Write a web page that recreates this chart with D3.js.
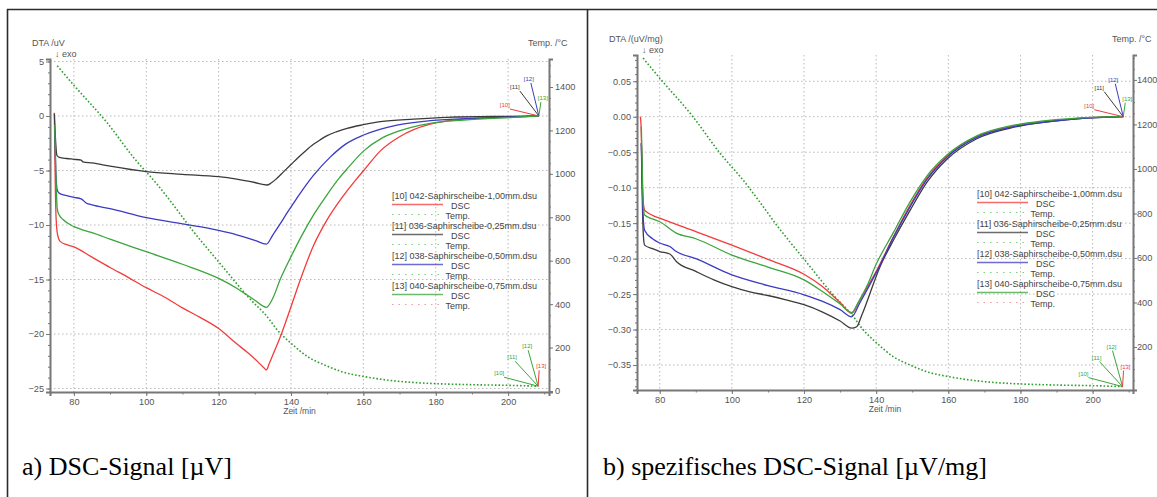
<!DOCTYPE html>
<html>
<head>
<meta charset="utf-8">
<script src="https://cdn.jsdelivr.net/npm/d3@7"></script>
<style>
  body { margin: 0; background: #fff; }
  svg { display: block; }
</style>
</head>
<body>
<svg id="chart" width="1157" height="497" font-family="'Liberation Sans', Arial, sans-serif"></svg>
<script>
// ---- Sample names and tags ----
const sampleNames = [
  "[10] 042-Saphirscheibe-1,00mm.dsu",
  "[11] 036-Saphirscheibe-0,25mm.dsu",
  "[12] 038-Saphirscheibe-0,50mm.dsu",
  "[13] 040-Saphirscheibe-0,75mm.dsu"
];
const sampleTags = ["[10]", "[11]", "[12]", "[13]"];
const sampleColors = ["#f23b3b", "#3b3b3b", "#3b3bc4", "#3aa53a"];

// ---- Tick labels ----
const timeTicks = [80, 100, 120, 140, 160, 180, 200];
const dscTicksA = [5, 0, -5, -10, -15, -20, -25];
const dscTicksB = [0.05, 0.00, -0.05, -0.10, -0.15, -0.20, -0.25, -0.30, -0.35];
const tempTicksA = [0, 200, 400, 600, 800, 1000, 1200, 1400];
const tempTicksB = [200, 400, 600, 800, 1000, 1200, 1400];

// ---- Furnace temperature, time /min and Temp. /°C ----
const tempTime  = [75.4, 80, 89.2, 96.7, 103.1, 107.3, 112.4, 120.2, 128.1, 134, 136, 138, 140.2, 144.8, 149.4, 154, 160, 170.2, 179.9, 190.1, 200.3, 208.3];
const tempValue = [1498, 1408, 1235, 1071, 950, 861, 748, 591, 434, 330, 285, 250, 217, 156, 119, 89, 67, 44, 34, 29, 26, 22];

// ---- DSC signal /µV, [time, value] ----
const dscA10 = [[74.6,0.3],[74.8,-5],[75.1,-9.5],[75.5,-10.9],[76.2,-11.5],[78,-11.8],[80,-12.0],[85,-12.95],[90,-13.9],[95,-14.8],[100,-15.75],[105,-16.6],[110,-17.6],[115,-18.5],[120,-19.5],[125,-20.9],[128,-21.7],[131,-22.6],[132.5,-23.1],[133.2,-23.3],[134,-22.7],[135,-21.9],[137,-20.3],[140,-17.5],[142.6,-15.0],[146.2,-11.9],[150,-9.5],[154.5,-7.3],[157.8,-5.9],[160.1,-5.0],[164.7,-3.2],[170,-1.9],[173.9,-1.25],[178,-0.8],[183.1,-0.45],[192.3,-0.2],[200,-0.1],[208.5,0]];
const dscA11 = [[74.6,0.2],[74.9,-2],[75.3,-3.6],[76,-3.8],[78,-3.9],[80,-3.97],[82,-4.05],[82.5,-4.2],[85,-4.3],[90,-4.6],[100,-5.1],[110,-5.35],[120,-5.57],[125,-5.8],[130,-6.1],[133.4,-6.33],[134.5,-6.15],[136,-5.75],[138,-5.1],[140,-4.45],[142,-3.8],[144,-3.2],[146.2,-2.6],[148,-2.2],[150,-1.8],[152.5,-1.45],[155.5,-1.13],[160,-0.8],[164.7,-0.52],[173.9,-0.28],[183.1,-0.12],[200,-0.03],[208.5,0]];
const dscA12 = [[74.7,-1.4],[75.0,-5],[75.4,-6.8],[76,-7.1],[78,-7.3],[80,-7.46],[82,-7.6],[83.5,-8.0],[85,-8.15],[90,-8.5],[100,-9.33],[110,-9.9],[120,-10.5],[125,-10.9],[130,-11.4],[133.2,-11.75],[135,-10.9],[137,-9.9],[139,-8.85],[141.6,-7.55],[144,-6.4],[146.2,-5.45],[150.9,-3.75],[155,-2.6],[160.1,-1.74],[169.3,-0.83],[178.5,-0.43],[192.3,-0.2],[208.5,0]];
const dscA13 = [[74.7,-0.8],[75.0,-5],[75.4,-8.5],[75.8,-9.0],[77,-9.5],[80,-10.15],[82,-10.4],[84,-10.6],[85,-10.7],[90,-11.3],[100,-12.45],[110,-13.6],[120,-14.9],[125,-15.8],[130,-16.9],[133.2,-17.55],[135,-16.7],[137,-15.0],[140,-12.9],[142.6,-11.2],[146.2,-9.1],[149,-7.7],[153.2,-5.75],[155.5,-4.85],[160.1,-3.2],[165,-2.05],[169.3,-1.44],[178.5,-0.67],[187.7,-0.37],[201.5,-0.12],[208.5,0]];

// ---- Specific DSC signal /(µV/mg), [time, value] ----
const dscB10 = [[74.6,0.0],[74.8,-0.01],[75.0,-0.05],[75.3,-0.11],[75.8,-0.1316],[76.3,-0.134],[78,-0.139],[80,-0.143],[90,-0.162],[100,-0.181],[110,-0.201],[120,-0.222],[125,-0.239],[130,-0.262],[133.2,-0.277],[135.5,-0.258],[138,-0.236],[140.2,-0.216],[144.8,-0.169],[149.4,-0.125],[154,-0.087],[159.6,-0.056],[167.9,-0.028],[177.2,-0.014],[186.4,-0.007],[195.7,-0.0023],[208.5,0.0]];
const dscB11 = [[74.9,-0.0375],[75.1,-0.1],[75.5,-0.17],[75.8,-0.181],[78,-0.186],[80,-0.190],[82.8,-0.1935],[84.6,-0.204],[90,-0.218],[95,-0.230],[100,-0.2396],[105,-0.247],[110,-0.252],[115,-0.258],[120,-0.265],[125,-0.275],[130,-0.288],[133.2,-0.298],[134.6,-0.296],[136,-0.28],[141.1,-0.211],[145,-0.172],[149.4,-0.132],[154,-0.093],[159.6,-0.060],[167.9,-0.031],[177.2,-0.016],[186.4,-0.008],[195.7,-0.003],[208.5,0.0]];
const dscB12 = [[74.9,-0.0375],[75.1,-0.08],[75.4,-0.14],[75.8,-0.16],[78,-0.172],[80,-0.178],[82.8,-0.183],[84.6,-0.190],[90,-0.200],[100,-0.223],[110,-0.238],[120,-0.251],[125,-0.260],[130,-0.272],[133.2,-0.282],[135.5,-0.262],[140.2,-0.218],[144.8,-0.170],[149.4,-0.127],[154,-0.089],[159.6,-0.057],[167.9,-0.029],[177.2,-0.015],[186.4,-0.008],[195.7,-0.003],[208.5,0.0]];
const dscB13 = [[74.9,-0.014],[75.1,-0.06],[75.4,-0.12],[75.8,-0.1386],[78,-0.144],[80,-0.148],[84.6,-0.164],[90,-0.172],[100,-0.195],[110,-0.212],[120,-0.230],[125,-0.246],[130,-0.264],[133.2,-0.276],[135,-0.262],[137.5,-0.238],[140,-0.208],[144.8,-0.163],[149.4,-0.120],[154,-0.084],[159.6,-0.054],[167.9,-0.027],[177.2,-0.013],[186.4,-0.006],[195.7,-0.002],[208.5,0.0]];

const tempSeries = tempTime.map((t, i) => [t, tempValue[i]]);

// ---- Panel layout ----
const panels = [
  {
    left: 50, right: 549, top: 59, bottom: 392,
    xDomain: [73.4, 211.3], yDomain: [-25.32, 5.23], tDomain: [-4.6, 1529],
    yTicks: dscTicksA, yFmt: d3.format("d"), yMinor: 1,
    tTicks: tempTicksA, tLabelX: 6,
    series: [dscA10, dscA11, dscA12, dscA13],
    yTitle: "DTA /uV", titleX: 32, exoX: 55,
    legendX: 392, legendY: 199, legendEnd: 470,
    caption: "a) DSC-Signal [\u00b5V]", captionX: 22
  },
  {
    left: 637, right: 1133, top: 55, bottom: 390,
    xDomain: [73.7, 211.2], yDomain: [-0.3852, 0.0870], tDomain: [6.7, 1512],
    yTicks: dscTicksB, yFmt: d3.format(".2f"), yMinor: 0.01,
    tTicks: tempTicksB, tLabelX: 4,
    series: [dscB10, dscB11, dscB12, dscB13],
    yTitle: "DTA /(uV/mg)", titleX: 609, exoX: 642,
    legendX: 977, legendY: 197, legendEnd: 1055,
    caption: "b) spezifisches DSC-Signal [\u00b5V/mg]", captionX: 603
  }
];

const svg = d3.select("#chart");
const axisColor = "#777";
const labelColor = "#555";

// Table frame around the two figures
const frame = svg.append("g").attr("stroke", "#2b2b2b").attr("stroke-width", 1.6).attr("fill", "none");
frame.append("line").attr("x1", 7).attr("x2", 1157).attr("y1", 9.5).attr("y2", 9.5);
frame.append("line").attr("x1", 7.5).attr("x2", 7.5).attr("y1", 9).attr("y2", 497);
frame.append("line").attr("x1", 587.5).attr("x2", 587.5).attr("y1", 9).attr("y2", 497);

panels.forEach((p, pi) => {
  const g = svg.append("g");
  const x = d3.scaleLinear().domain(p.xDomain).range([p.left, p.right]);
  const y = d3.scaleLinear().domain(p.yDomain).range([p.bottom, p.top]);
  const t = d3.scaleLinear().domain(p.tDomain).range([p.bottom, p.top]);

  // dotted grid
  const grid = g.append("g").attr("stroke", "#b8b8b8").attr("stroke-width", 1).attr("stroke-dasharray", "1.5,2.5");
  timeTicks.forEach(v => grid.append("line").attr("x1", x(v)).attr("x2", x(v)).attr("y1", p.top).attr("y2", p.bottom));
  p.yTicks.forEach(v => grid.append("line").attr("x1", p.left).attr("x2", p.right).attr("y1", y(v)).attr("y2", y(v)));

  // axes with major and minor ticks
  const minorX = d3.range(80, 211, 10);
  const xAxis = d3.axisBottom(x).tickValues(timeTicks).tickSize(4).tickFormat(d3.format("d"));
  const xMinor = d3.axisBottom(x).tickValues(minorX).tickSize(2.5).tickFormat("");
  const yAxis = d3.axisLeft(y).tickValues(p.yTicks).tickSize(4).tickFormat(p.yFmt);
  const yMinorVals = d3.range(Math.ceil(p.yDomain[0] / p.yMinor), Math.floor(p.yDomain[1] / p.yMinor) + 1).map(k => k * p.yMinor);
  const yMinor = d3.axisLeft(y).tickValues(yMinorVals).tickSize(2).tickFormat("");
  const tAxis = d3.axisRight(t).tickValues(p.tTicks).tickSize(4).tickFormat(d3.format("d"));
  const tMinorVals = d3.range(0, 1501, 50).filter(v => v >= p.tDomain[0] && v <= p.tDomain[1]);
  const tMinor = d3.axisRight(t).tickValues(tMinorVals).tickSize(2).tickFormat("");

  function styleAxis(sel) {
    sel.attr("font-family", null);
    sel.select(".domain").attr("stroke", axisColor).attr("stroke-width", 2);
    sel.selectAll(".tick line").attr("stroke", axisColor).attr("stroke-width", 1);
    sel.selectAll(".tick text").attr("fill", labelColor).attr("font-size", 9.2);
  }
  g.append("g").attr("transform", `translate(0,${p.bottom})`).call(xMinor).call(styleAxis).select(".domain").remove();
  g.append("g").attr("transform", `translate(${p.left},0)`).call(yMinor).call(styleAxis).select(".domain").remove();
  g.append("g").attr("transform", `translate(${p.right},0)`).call(tMinor).call(styleAxis).select(".domain").remove();
  g.append("g").attr("transform", `translate(0,${p.bottom})`).call(xAxis).call(styleAxis)
    .selectAll(".tick text").attr("y", 12.5).attr("dy", 0);
  g.append("g").attr("transform", `translate(${p.left},0)`).call(yAxis).call(styleAxis)
    .selectAll(".tick text").attr("x", -6);
  g.append("g").attr("transform", `translate(${p.right},0)`).call(tAxis).call(styleAxis)
    .selectAll(".tick text").attr("x", p.tLabelX);

  // axis titles
  g.append("text").attr("x", p.titleX).attr("y", p.top - 13).attr("font-size", 9).attr("fill", labelColor).text(p.yTitle);
  g.append("text").attr("x", p.exoX).attr("y", p.top - 2).attr("font-size", 9).attr("fill", labelColor)
    .text("\u2193  exo");
  g.append("text").attr("x", p.right - 21).attr("y", p.top - 13).attr("font-size", 9).attr("fill", labelColor).text("Temp. /\u00b0C");
  g.append("text").attr("x", (p.left + p.right) / 2).attr("y", p.bottom + 22).attr("text-anchor", "middle")
    .attr("font-size", 8.5).attr("fill", labelColor).text("Zeit /min");

  // furnace temperature
  const tLine = d3.line().x(d => x(d[0])).y(d => t(d[1])).curve(d3.curveMonotoneX);
  g.append("path").datum(tempSeries).attr("d", tLine).attr("fill", "none")
    .attr("stroke", "#2f9e2f").attr("stroke-width", 1.6).attr("stroke-dasharray", "1.6,2");

  // DSC curves
  const line = d3.line().x(d => x(d[0])).y(d => y(d[1])).curve(d3.curveMonotoneX);
  p.series.forEach((s, i) => {
    g.append("path").datum(s).attr("d", line).attr("fill", "none")
      .attr("stroke", sampleColors[i]).attr("stroke-width", 1.3);
  });

  // end-of-curve tags for the DSC curves
  const tagDx = [-34, -24, -10, 4], tagDy = [-9, -27, -35, -16], tagLx = [5, 5, 2, -2];
  p.series.forEach((s, i) => {
    const e = s[s.length - 1];
    const ex = x(e[0]), ey = y(e[1]);
    g.append("line").attr("x1", ex + tagDx[i] + tagLx[i]).attr("y1", ey + tagDy[i] + 2)
      .attr("x2", ex).attr("y2", ey).attr("stroke", sampleColors[i]).attr("stroke-width", 1);
    g.append("text").attr("x", ex + tagDx[i]).attr("y", ey + tagDy[i]).attr("text-anchor", "middle")
      .attr("font-size", 6).attr("fill", sampleColors[i]).text(sampleTags[i]);
  });

  // end-of-curve tags for the temperature curves
  const tempTagColors = ["#3aa53a", "#3aa53a", "#3aa53a", "#f23b3b"];
  const ttDx = [-39, -26, -11, 3], ttDy = [-11, -27, -38, -18], ttLx = [5, 3, 1, -2];
  const te = tempSeries[tempSeries.length - 1];
  const tex = x(te[0]), tey = t(te[1]);
  sampleTags.forEach((tag, i) => {
    g.append("line").attr("x1", tex + ttDx[i] + ttLx[i]).attr("y1", tey + ttDy[i] + 2)
      .attr("x2", tex).attr("y2", tey).attr("stroke", tempTagColors[i]).attr("stroke-width", 1);
    g.append("text").attr("x", tex + ttDx[i]).attr("y", tey + ttDy[i]).attr("text-anchor", "middle")
      .attr("font-size", 6).attr("fill", tempTagColors[i]).text(tag);
  });

  // legend
  const lg = g.append("g");
  const tempLegendColors = ["#5cc45c", "#5cc45c", "#5cc45c", "#f08080"];
  sampleNames.forEach((name, i) => {
    const y0 = p.legendY + i * 30;
    lg.append("text").attr("x", p.legendX).attr("y", y0).attr("font-size", 9).attr("fill", "#444").text(name);
    lg.append("line").attr("x1", p.legendX).attr("x2", p.legendX + 51).attr("y1", y0 + 5.5).attr("y2", y0 + 5.5)
      .attr("stroke", sampleColors[i]).attr("stroke-width", 1.4).attr("opacity", 0.75);
    lg.append("text").attr("x", p.legendEnd).attr("y", y0 + 9.5).attr("text-anchor", "end")
      .attr("font-size", 9).attr("fill", "#444").text("DSC");
    lg.append("line").attr("x1", p.legendX).attr("x2", p.legendX + 51).attr("y1", y0 + 15.5).attr("y2", y0 + 15.5)
      .attr("stroke", tempLegendColors[i]).attr("stroke-width", 1.2).attr("stroke-dasharray", "1.5,5").attr("opacity", 0.8);
    lg.append("text").attr("x", p.legendEnd).attr("y", y0 + 19.5).attr("text-anchor", "end")
      .attr("font-size", 9).attr("fill", "#444").text("Temp.");
  });

  // caption below each figure
  svg.append("text").attr("x", p.captionX).attr("y", 475)
    .attr("font-family", "'Liberation Serif', 'Times New Roman', serif")
    .attr("font-size", 26).attr("fill", "#000").text(p.caption);
});
</script>
</body>
</html>
